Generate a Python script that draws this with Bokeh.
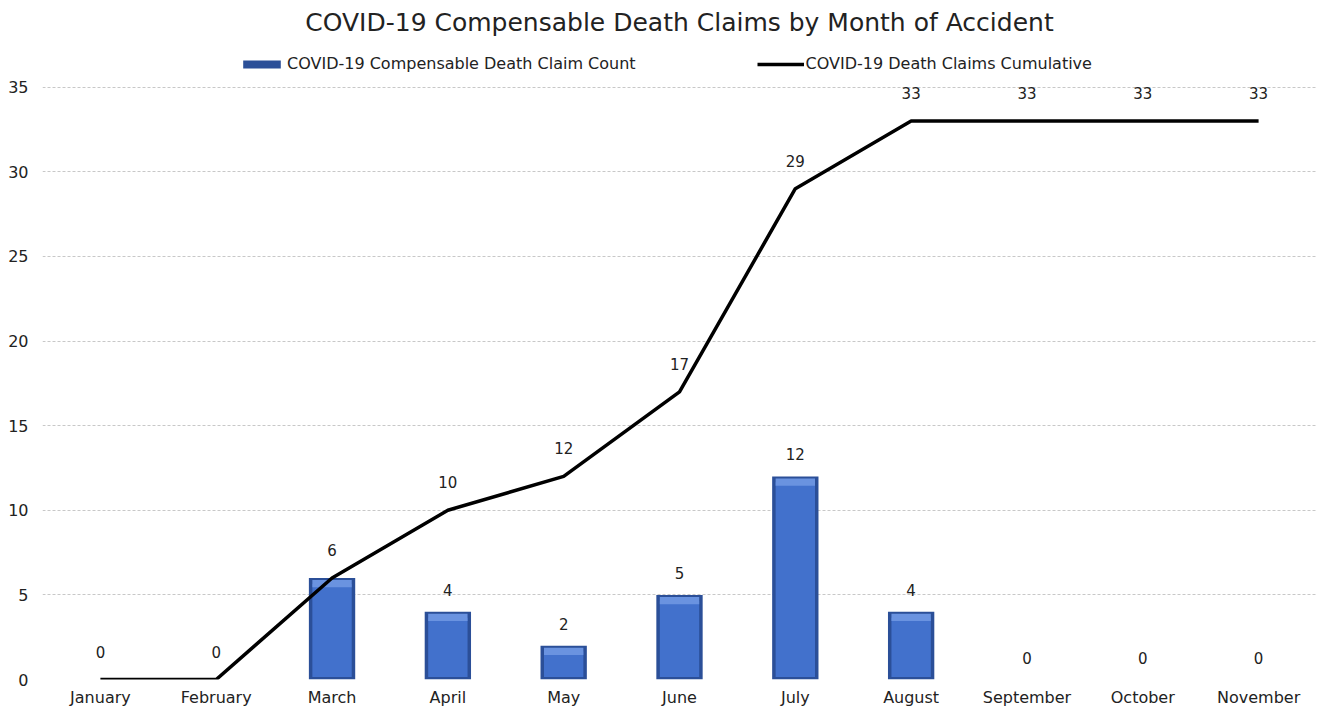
from bokeh.plotting import figure
from bokeh.models import ColumnDataSource, Legend, LegendItem, FactorRange, Range1d, SingleIntervalTicker
from bokeh.embed import file_html
from bokeh.resources import INLINE
from bokeh.core.properties import value

months = ["January", "February", "March", "April", "May", "June", "July",
          "August", "September", "October", "November"]
counts = [0, 0, 6, 4, 2, 5, 12, 4, 0, 0, 0]
cumulative = [0, 0, 6, 10, 12, 17, 29, 33, 33, 33, 33]

FONT = "DejaVu Sans"

src = ColumnDataSource(dict(
    month=months, count=counts, cum=cumulative,
    inner_top=[max(c - 0.35, 0) for c in counts],
    inner_bot=[0.15 if c > 0 else 0 for c in counts],
    hl_bot=[max(c - 0.55, 0) for c in counts],
    hl_top=[max(c - 0.12, 0) for c in counts],
    cums=[str(c) for c in cumulative],
))
lab_months = [m for m, c, s in zip(months, counts, cumulative) if c != s]
lab_counts = [c for m, c, s in zip(months, counts, cumulative) if c != s]
bar_lab = ColumnDataSource(dict(month=lab_months, count=lab_counts,
                                txt=[str(c) for c in lab_counts]))

# y range extends above 35 to leave room for the legend row (as in the original)
p = figure(width=1316, height=709, x_range=FactorRange(*months, range_padding=0),
           y_range=Range1d(0, 37.7), output_backend="svg", toolbar_location=None,
           min_border_left=42, min_border_right=0, min_border_bottom=0, min_border_top=32)
p.outline_line_color = None
p.background_fill_color = "white"

p.title.text = "COVID-19 Compensable Death Claims by Month of Accident"
p.title.align = "center"
p.title.text_font = FONT
p.title.text_font_size = "25px"
p.title.text_font_style = "normal"
p.title.text_color = "#222222"

# bars with bevel look
bars = p.vbar(x="month", top="count", bottom=0, width=0.4, source=src,
              fill_color="#2B4F98", line_color=None)
p.vbar(x="month", top="inner_top", bottom="inner_bot", width=0.34, source=src,
       fill_color="#4271CC", line_color=None)
p.vbar(x="month", top="hl_top", bottom="hl_bot", width=0.34, source=src,
       fill_color="#6A93E0", line_color=None)

line = p.line(x="month", y="cum", source=src, line_color="black", line_width=3.5)

p.text(x="month", y="cum", text="cums", source=src, text_align="center",
       text_baseline="middle", y_offset=-28, text_font=value(FONT),
       text_font_size="15px", text_color="#222222")
p.text(x="month", y="count", text="txt", source=bar_lab, text_align="center",
       text_baseline="middle", y_offset=-22, text_font=value(FONT),
       text_font_size="15px", text_color="#222222")

p.yaxis.ticker = SingleIntervalTicker(interval=5)
for ax in (p.xaxis[0], p.yaxis[0]):
    ax.axis_line_color = None
    ax.major_tick_line_color = None
    ax.minor_tick_line_color = None
    ax.major_label_text_font = FONT
    ax.major_label_text_font_size = "16px"
    ax.major_label_text_color = "#222222"
p.xaxis.major_label_standoff = 2
p.yaxis.major_label_standoff = 8

p.xgrid.grid_line_color = None
p.ygrid.grid_line_color = "#C8C8C8"
p.ygrid.grid_line_dash = "3 2"
p.ygrid.grid_line_width = 1

legend = Legend(items=[
    LegendItem(label="COVID-19 Compensable Death Claim Count", renderers=[bars]),
    LegendItem(label="COVID-19 Death Claims Cumulative", renderers=[line]),
], orientation="horizontal", location=(196, 606), spacing=121, glyph_width=47,
    glyph_height=10, label_standoff=2, border_line_color=None, padding=2, margin=0,
    background_fill_alpha=0,
    label_text_font=FONT, label_text_font_size="16px", label_text_color="#222222")
p.add_layout(legend, "center")

open("out.html", "w").write(file_html(p, INLINE))
